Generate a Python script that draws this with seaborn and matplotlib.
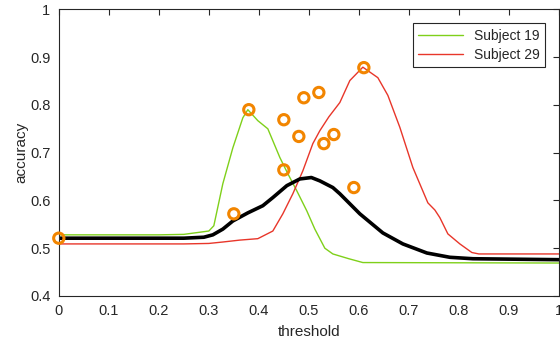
import pandas as pd
import seaborn as sns
import matplotlib.pyplot as plt

# subject 19 accuracy curve
s19_thr = [0, 0.1, 0.2, 0.25, 0.30, 0.31, 0.328, 0.348, 0.368, 0.378, 0.398, 0.418, 0.442,
           0.458, 0.476, 0.496, 0.512, 0.532, 0.548, 0.58, 0.608, 1.0]
s19_acc = [0.528, 0.528, 0.528, 0.529, 0.536, 0.547, 0.635, 0.71, 0.773, 0.79, 0.767, 0.75, 0.69,
           0.656, 0.62, 0.578, 0.54, 0.50, 0.488, 0.478, 0.47, 0.469]

# subject 29 accuracy curve
s29_thr = [0, 0.25, 0.30, 0.328, 0.362, 0.398, 0.428, 0.448, 0.468, 0.488, 0.508, 0.522, 0.54,
           0.562, 0.582, 0.608, 0.638, 0.658, 0.682, 0.708, 0.738, 0.752, 0.762, 0.778, 0.802,
           0.826, 0.84, 1.0]
s29_acc = [0.509, 0.509, 0.51, 0.513, 0.517, 0.52, 0.536, 0.572, 0.614, 0.662, 0.719, 0.746, 0.775,
           0.805, 0.851, 0.879, 0.857, 0.82, 0.753, 0.669, 0.595, 0.58, 0.564, 0.53, 0.509,
           0.491, 0.488, 0.488]

# mean curve
mean_thr = [0, 0.25, 0.29, 0.308, 0.328, 0.348, 0.378, 0.408, 0.428, 0.456, 0.482, 0.505, 0.522,
            0.548, 0.562, 0.602, 0.648, 0.688, 0.736, 0.782, 0.828, 1.0]
mean_acc = [0.521, 0.521, 0.523, 0.528, 0.54, 0.557, 0.574, 0.589, 0.606, 0.631, 0.645, 0.648, 0.641,
            0.627, 0.614, 0.572, 0.532, 0.509, 0.49, 0.481, 0.478, 0.476]

# best threshold per subject
best_thr = [0, 0.35, 0.38, 0.45, 0.45, 0.48, 0.49, 0.52, 0.53, 0.55, 0.59, 0.61]
best_acc = [0.521, 0.572, 0.790, 0.769, 0.664, 0.734, 0.815, 0.826, 0.719, 0.738, 0.627, 0.878]

sns.set_style('white')
plt.rcParams['font.family'] = ['Liberation Sans', 'DejaVu Sans']

fig = plt.figure(figsize=(5.6, 3.47), dpi=100)
ax = fig.add_axes([0.105, 0.147, 0.893, 0.826])

sns.lineplot(x=s19_thr, y=s19_acc, ax=ax, color='#7fd01a', linewidth=1.0, sort=False,
             label='Subject 19')
sns.lineplot(x=s29_thr, y=s29_acc, ax=ax, color='#e8362a', linewidth=1.0, sort=False,
             label='Subject 29')
sns.lineplot(x=mean_thr, y=mean_acc, ax=ax, color='black', linewidth=2.6, sort=False)
sns.scatterplot(x=best_thr, y=best_acc, ax=ax, s=55, facecolors='none', edgecolor='#f28500',
                linewidth=2.2, zorder=5, clip_on=False)

ax.set_xlim(0, 1)
ax.set_ylim(0.4, 1)
ax.set_xticks([i / 10 for i in range(11)])
ax.set_xticklabels(['0', '0.1', '0.2', '0.3', '0.4', '0.5', '0.6', '0.7', '0.8', '0.9', '1'])
ax.set_yticks([0.4, 0.5, 0.6, 0.7, 0.8, 0.9, 1.0])
ax.set_yticklabels(['0.4', '0.5', '0.6', '0.7', '0.8', '0.9', '1'])
ax.tick_params(direction='in', length=4, width=0.8, top=True, right=True, labelsize=10.5,
               colors='#262626', pad=6)
for sp in ax.spines.values():
    sp.set_color('#262626')
    sp.set_linewidth(0.8)
ax.set_xlabel('threshold', fontsize=11, color='#262626', labelpad=5)
ax.set_ylabel('accuracy', fontsize=11, color='#262626', labelpad=1)

leg = ax.legend(loc='upper right', fontsize=10, frameon=True, fancybox=False,
                edgecolor='#262626', framealpha=1, handlelength=3.2,
                borderaxespad=1.0, labelspacing=0.35)
leg.get_frame().set_linewidth(0.8)

fig.savefig('out.png', dpi=100)
